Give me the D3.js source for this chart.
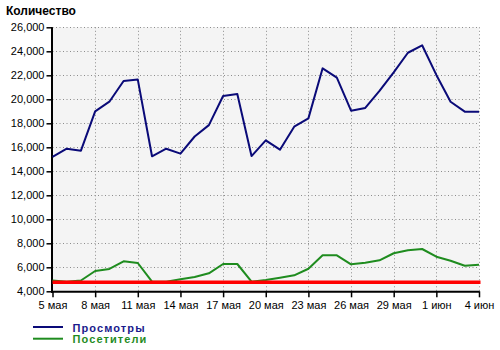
<!DOCTYPE html>
<html>
<head>
<meta charset="utf-8">
<script src="https://cdn.jsdelivr.net/npm/d3@7"></script>
<style>
  html, body { margin: 0; padding: 0; background: #fff; }
  svg { display: block; font-family: "Liberation Sans", Arial, sans-serif; }
</style>
</head>
<body>
<div id="chart"></div>
<script>
// Data: daily values, 5 May .. 4 June (31 days)
var tickLabels = ['5 мая', '8 мая', '11 мая', '14 мая', '17 мая', '20 мая',
                  '23 мая', '26 мая', '29 мая', '1 июн', '4 июн'];
var views = [15200, 15880, 15720, 19000, 19800, 21530, 21640, 15250, 15880, 15470,
             16900, 17850, 20280, 20440, 15270, 16580, 15800, 17720, 18410, 22580,
             21800, 19050, 19280, 20700, 22250, 23880, 24500, 22030, 19800, 18970, 18970];
var visitors = [4900, 4800, 4900, 5690, 5860, 6500, 6360, 4800, 4800, 5000,
                5190, 5500, 6275, 6275, 4800, 4950, 5130, 5330, 5880, 7000,
                7000, 6250, 6380, 6580, 7170, 7420, 7525, 6880, 6550, 6130, 6220];
var threshold = 4750;
var yTicks = [4000, 6000, 8000, 10000, 12000, 14000, 16000, 18000, 20000, 22000, 24000, 26000];

(function() {
  var width = 500, height = 350;
  var left = 52.5, right = 479, top = 27.3, bottom = 291.3;

  var svg = d3.select('#chart').append('svg')
    .attr('width', width)
    .attr('height', height);

  var x = d3.scaleLinear().domain([0, views.length - 1]).range([left, right]);
  var y = d3.scaleLinear().domain([4000, 26000]).range([bottom, top]);
  var fmt = d3.format(',');

  // Plot background
  svg.append('rect')
    .attr('x', left).attr('y', top)
    .attr('width', right - left).attr('height', bottom - top)
    .attr('fill', '#f4f4f4');

  // Grid
  var grid = svg.append('g').attr('stroke', '#8c8c8c').attr('stroke-dasharray', '1,2.5');
  grid.selectAll('line.h')
    .data(yTicks.slice(1))
    .join('line')
    .attr('x1', left).attr('x2', right)
    .attr('y1', function(d) { return Math.round(y(d)) + 0.5; })
    .attr('y2', function(d) { return Math.round(y(d)) + 0.5; });
  grid.selectAll('line.v')
    .data(tickLabels.slice(1))
    .join('line')
    .attr('x1', function(d, i) { return Math.round(x((i + 1) * 3)) + 0.5; })
    .attr('x2', function(d, i) { return Math.round(x((i + 1) * 3)) + 0.5; })
    .attr('y1', top).attr('y2', bottom);

  // Y axis
  var yAxis = svg.append('g')
    .attr('transform', 'translate(' + left + ',0)')
    .call(d3.axisLeft(y).tickValues(yTicks).tickFormat(fmt).tickSize(6).tickPadding(2));
  yAxis.select('.domain').remove();
  yAxis.selectAll('line').attr('stroke', '#000').attr('stroke-width', 1.5);
  yAxis.selectAll('text').attr('font-size', '11px').attr('fill', '#000')
    .attr('font-family', '"Liberation Sans", Arial, sans-serif');

  // X axis
  var xAxis = svg.append('g')
    .attr('transform', 'translate(0,' + bottom + ')')
    .call(d3.axisBottom(x)
      .tickValues(d3.range(0, views.length, 3))
      .tickFormat(function(d) { return tickLabels[d / 3]; })
      .tickSize(6).tickPadding(4));
  xAxis.select('.domain').remove();
  xAxis.selectAll('line').attr('stroke', '#000').attr('stroke-width', 1.5);
  xAxis.selectAll('text').attr('font-size', '11px').attr('fill', '#000')
    .attr('font-family', '"Liberation Sans", Arial, sans-serif');

  // Axis lines
  svg.append('line')
    .attr('x1', left - 0.5).attr('x2', left - 0.5)
    .attr('y1', top).attr('y2', bottom + 1.5)
    .attr('stroke', '#000').attr('stroke-width', 2);
  svg.append('line')
    .attr('x1', left - 1.5).attr('x2', right + 0.5)
    .attr('y1', bottom + 0.5).attr('y2', bottom + 0.5)
    .attr('stroke', '#000').attr('stroke-width', 2);

  // Series
  var line = d3.line()
    .x(function(d, i) { return x(i); })
    .y(function(d) { return y(d); });

  svg.append('path')
    .datum(views)
    .attr('d', line)
    .attr('fill', 'none')
    .attr('stroke', '#0a0a78')
    .attr('stroke-width', 2)
    .attr('stroke-linejoin', 'round');

  svg.append('path')
    .datum(visitors)
    .attr('d', line)
    .attr('fill', 'none')
    .attr('stroke', '#1f8c1f')
    .attr('stroke-width', 2)
    .attr('stroke-linejoin', 'round');

  // Threshold line
  svg.append('line')
    .attr('x1', x(0)).attr('x2', x(views.length - 1) + 1.5)
    .attr('y1', y(threshold)).attr('y2', y(threshold))
    .attr('stroke', '#f00')
    .attr('stroke-width', 3.5);

  // Title
  svg.append('text')
    .attr('x', 6).attr('y', 15)
    .attr('font-size', '12px')
    .attr('font-weight', 'bold')
    .attr('fill', '#000')
    .text('Количество');

  // Legend
  var legend = [
    { name: 'Просмотры', color: '#0a0a78', text: '#1a1a8c' },
    { name: 'Посетители', color: '#1f8c1f', text: '#1f8c1f' }
  ];
  var lg = svg.append('g').selectAll('g')
    .data(legend)
    .join('g')
    .attr('transform', function(d, i) { return 'translate(0,' + (327 + i * 11.7) + ')'; });
  lg.append('line')
    .attr('x1', 33).attr('x2', 63)
    .attr('stroke', function(d) { return d.color; })
    .attr('stroke-width', 2);
  lg.append('text')
    .attr('x', 72.5).attr('y', 4.5)
    .attr('font-size', '11px')
    .attr('font-weight', 'bold')
    .attr('letter-spacing', '1.1px')
    .attr('fill', function(d) { return d.text; })
    .text(function(d) { return d.name; });
})();
</script>
</body>
</html>
